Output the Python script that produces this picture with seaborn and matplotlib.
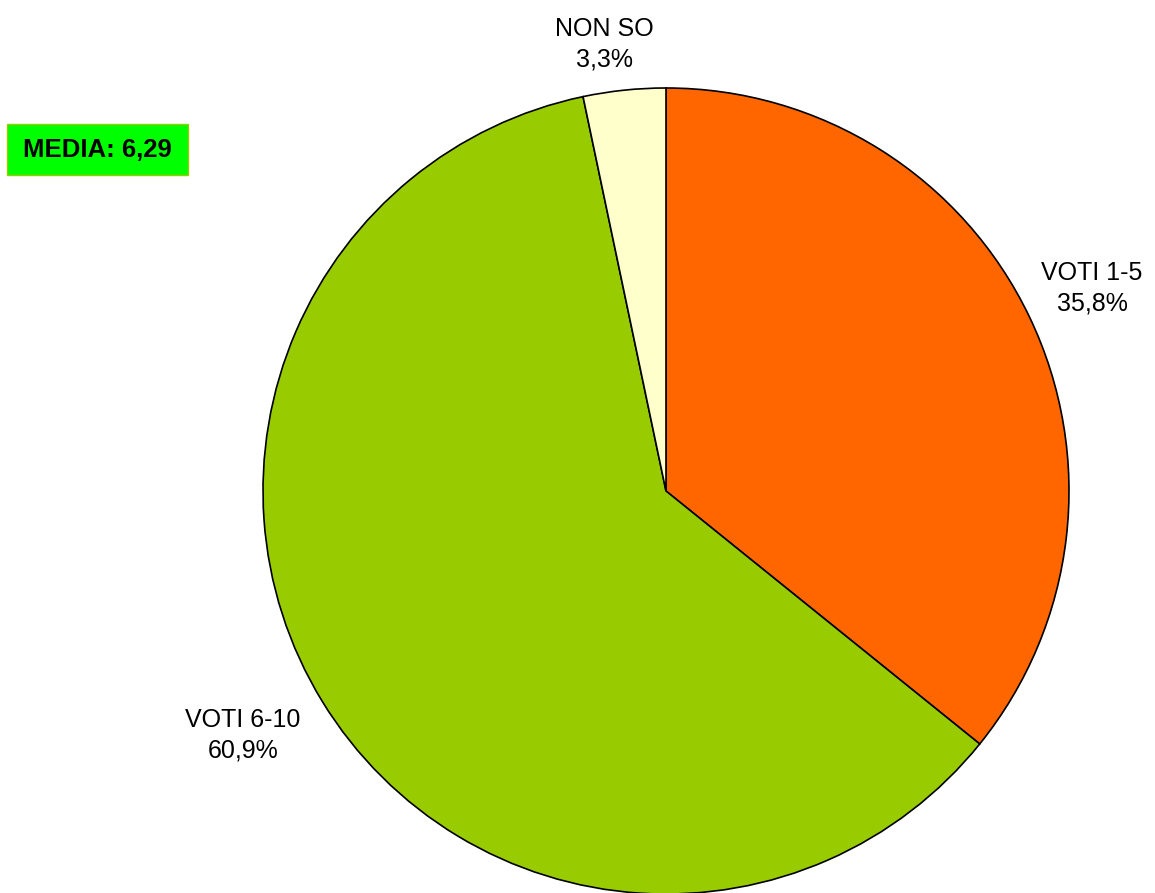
import numpy as np
import matplotlib
matplotlib.use("Agg")
import matplotlib.pyplot as plt
import seaborn as sns
from matplotlib.patches import Rectangle

# data
labels = ["VOTI 1-5", "VOTI 6-10", "NON SO"]
values = [35.8, 60.9, 3.3]
colors = ["#FF6600", "#99CC00", "#FFFFCC"]
media_text = "MEDIA: 6,29"

sns.set_theme(style="white")
plt.rcParams['font.family'] = ['Liberation Sans', 'DejaVu Sans']
plt.rcParams['text.color'] = 'black'

W, H = 1155, 893
fig = plt.figure(figsize=(W / 100, H / 100), dpi=100)
ax = fig.add_axes([0, 0, 1, 1])

# pie centre and radius in pixels
cx, cy, r = 666, 491, 403

wedges, _ = ax.pie(values, colors=colors, startangle=90, counterclock=False,
                   wedgeprops=dict(edgecolor="black", linewidth=1.2))
ax.set_aspect("auto")
ax.set_xlim(-cx / r, (W - cx) / r)
ax.set_ylim(-(H - cy) / r, cy / r)
ax.axis("off")
for w in wedges:
    w.set_clip_on(False)

# label distances (Excel-like placement)
label_dist = [1.171, 1.212, 1.12]
label_shift = [-0.1, -1.5, 1.9]  # degrees
for w, lab, v, d, s in zip(wedges, labels, values, label_dist, label_shift):
    ang = np.deg2rad((w.theta1 + w.theta2) / 2 + s)
    ax.text(d * np.cos(ang), d * np.sin(ang),
            f"{lab}\n{v:.1f}%".replace(".", ","),
            ha="center", va="center", fontsize=18, linespacing=1.35,
            color="black")

# media box
fig.patches.append(Rectangle((7 / W, 1 - 175 / H), 181 / W, 51 / H,
                             transform=fig.transFigure, facecolor="#00FF00",
                             edgecolor="#99CC00", linewidth=1))
fig.text(97 / W, 1 - 150 / H, media_text, ha="center", va="center",
         fontsize=18.5, fontweight="bold", color="black")

fig.savefig("out.png", dpi=100, facecolor="white")
